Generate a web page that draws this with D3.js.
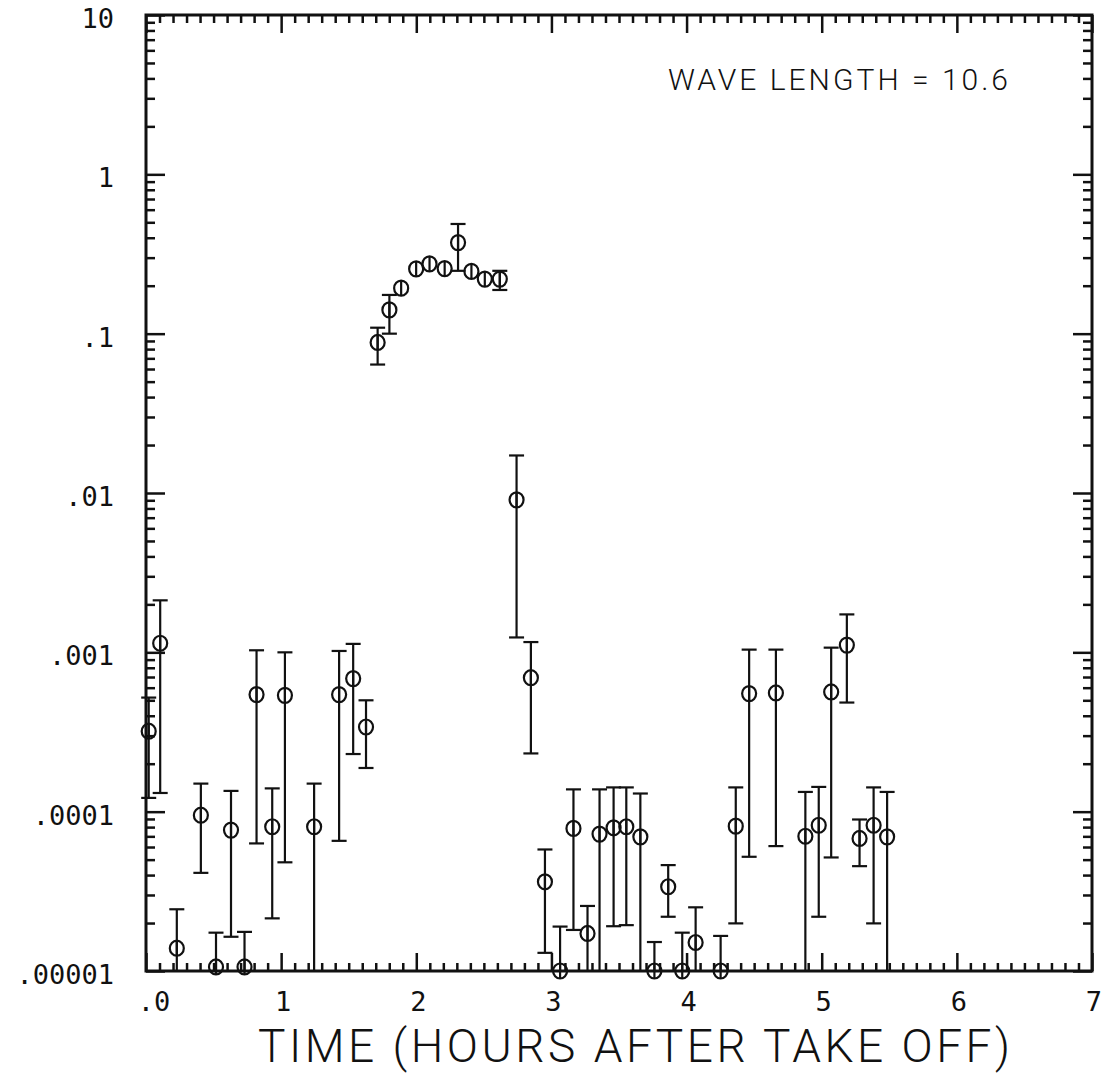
<!DOCTYPE html>
<html><head><meta charset="utf-8">
<script src="https://cdn.jsdelivr.net/npm/d3@7/dist/d3.min.js"></script>
<style>body{margin:0;background:#fff}svg{display:block}text{font-family:"DejaVu Sans Mono",monospace;fill:#111}
text.thin{font-family:Roboto,"DejaVu Sans",sans-serif;font-weight:300}</style>
</head><body>
<svg id="c" width="1106" height="1088"></svg>
<script>
// Time (hours after take off)
const times = [0.02,0.105,0.228,0.406,0.518,0.629,0.729,0.818,0.934,1.028,1.244,1.429,1.533,1.628,
  1.714,1.801,1.888,1.999,2.098,2.210,2.309,2.408,2.507,2.618,2.742,2.848,2.952,3.064,3.163,3.267,
  3.356,3.460,3.554,3.658,3.762,3.864,3.968,4.067,4.252,4.364,4.463,4.661,4.879,4.978,5.070,5.186,
  5.280,5.384,5.484];
const values = [3.2e-4,1.14e-3,1.39e-5,9.5e-5,1.06e-5,7.66e-5,1.06e-5,5.43e-4,8.04e-5,5.37e-4,8.04e-5,5.43e-4,6.84e-4,3.40e-4,
  0.0881,0.141,0.193,0.255,0.274,0.256,0.373,0.246,0.220,0.220,9.06e-3,6.93e-4,3.63e-5,1.0e-5,7.85e-5,1.72e-5,
  7.23e-5,7.92e-5,8.04e-5,6.95e-5,1.0e-5,3.38e-5,1.0e-5,1.51e-5,1.0e-5,8.11e-5,5.51e-4,5.56e-4,7.01e-5,8.22e-5,5.64e-4,1.11e-3,
  6.79e-5,8.22e-5,6.95e-5];
// upper end of error bar (null = no bar drawn)
const uppers = [5.2e-4,2.12e-3,2.44e-5,1.50e-4,1.74e-5,1.35e-4,1.76e-5,1.03e-3,1.40e-4,1.0e-3,1.50e-4,1.02e-3,1.13e-3,5.0e-4,
  0.109,0.175,null,null,null,null,0.488,null,null,0.248,0.0172,1.16e-3,5.79e-5,1.90e-5,1.38e-4,2.56e-5,
  1.38e-4,1.42e-4,1.42e-4,1.30e-4,1.52e-5,4.62e-5,1.74e-5,2.51e-5,1.66e-5,1.42e-4,1.04e-3,1.04e-3,1.33e-4,1.43e-4,1.07e-3,1.73e-3,
  8.93e-5,1.42e-4,1.33e-4];
// lower end of error bar (0 = extends below the plotted range, null = no bar)
const lowers = [1.22e-4,1.31e-4,0,4.13e-5,0,1.64e-5,0,6.32e-5,2.14e-5,4.81e-5,0,6.56e-5,2.30e-4,1.88e-4,
  0.064,0.100,null,null,null,null,0.248,null,null,0.188,1.24e-3,2.32e-4,1.30e-5,0,1.81e-5,0,
  0,1.91e-5,1.94e-5,0,0,2.19e-5,0,0,0,1.99e-5,5.21e-5,6.08e-5,0,2.19e-5,5.16e-5,4.84e-4,
  4.55e-5,1.99e-5,0];
const xTickValues = [0,1,2,3,4,5,6,7];
const xTickLabels = [".0","1","2","3","4","5","6","7"];
const yTickValues = [10,1,0.1,0.01,0.001,0.0001,0.00001];
const yTickLabels = ["10","1",".1",".01",".001",".0001",".00001"];
const xTitle = "TIME (HOURS AFTER TAKE OFF)";
const annotation = "WAVE LENGTH = 10.6";

const L=146,R=1092,T=15,B=971;
const svg = d3.select("#c");
const x = d3.scaleLinear().domain([0,7]).range([L,R]);
const y = d3.scaleLog().domain([1e-5,10]).range([B,T]);

// minor tick positions
const xMinor = d3.range(0,70).map(i=>i/10).filter(v=>Math.abs(v-Math.round(v))>1e-6);
const yMinor = [];
for (let e=-5;e<1;e++) for (let k=2;k<=9;k++) yMinor.push(k*Math.pow(10,e));

const g = svg.append("g");
function tickAxis(axisFn, scale, vals, size, tr){
  const a = axisFn(scale).tickValues(vals).tickSize(size).tickFormat("");
  const gg = g.append("g").attr("transform",tr).call(a);
  gg.select(".domain").remove();
  gg.selectAll("line").attr("stroke","#111").attr("stroke-width",2.5);
  return gg;
}
// bottom
tickAxis(d3.axisBottom, x, xMinor, -8, `translate(0,${B})`);
tickAxis(d3.axisBottom, x, xTickValues, -18, `translate(0,${B})`);
// top
tickAxis(d3.axisTop, x, xMinor, -8, `translate(0,${T})`);
tickAxis(d3.axisTop, x, xTickValues, -18, `translate(0,${T})`);
// left
tickAxis(d3.axisLeft, y, yMinor, -9, `translate(${L},0)`);
tickAxis(d3.axisLeft, y, yTickValues, -19, `translate(${L},0)`);
// right
tickAxis(d3.axisRight, y, yMinor, -9, `translate(${R},0)`);
tickAxis(d3.axisRight, y, yTickValues, -19, `translate(${R},0)`);

// frame
g.append("rect").attr("x",L).attr("y",T).attr("width",R-L).attr("height",B-T)
  .attr("fill","none").attr("stroke","#111").attr("stroke-width",3);

// y labels
g.selectAll("text.yl").data(yTickValues).join("text").attr("class","yl")
  .attr("x",114).attr("y",d=>y(d)+13).attr("text-anchor","end")
  .attr("font-size",27).text((d,i)=>yTickLabels[i]);
// x labels
g.selectAll("text.xl").data(xTickValues).join("text").attr("class","xl")
  .attr("x",(d,i)=>x(d)+(i===0?8:2)).attr("y",1011).attr("text-anchor","middle")
  .attr("font-size",27).text((d,i)=>xTickLabels[i]);

// title
g.append("text").attr("class","thin").attr("x",258).attr("y",1062).attr("font-size",46)
  .attr("textLength",752).attr("lengthAdjust","spacing").text(xTitle);
g.append("text").attr("class","thin").attr("x",668).attr("y",90).attr("font-size",30)
  .attr("textLength",340).attr("lengthAdjust","spacing").text(annotation);

// data
const data = times.map((t,i)=>({t,v:values[i],u:uppers[i],l:lowers[i]}));
const cap = 7.5;
const eb = g.append("g").attr("stroke","#111").attr("stroke-width",2.2).attr("fill","none");
data.forEach(d=>{
  if (d.u===null && d.l===null) return;
  const cx = x(d.t);
  const yu = y(d.u);
  const yl = d.l===0 ? B : y(d.l);
  eb.append("line").attr("x1",cx).attr("x2",cx).attr("y1",yu).attr("y2",yl);
  eb.append("line").attr("x1",cx-cap).attr("x2",cx+cap).attr("y1",yu).attr("y2",yu);
  if (d.l!==0) eb.append("line").attr("x1",cx-cap).attr("x2",cx+cap).attr("y1",yl).attr("y2",yl);
});
g.append("g").selectAll("ellipse").data(data).join("ellipse")
  .attr("cx",d=>x(d.t)).attr("cy",d=>y(d.v)).attr("rx",7).attr("ry",7.5)
  .attr("fill","none").attr("stroke","#111").attr("stroke-width",2.2);
// vertical stroke through each marker
g.append("g").selectAll("line").data(data).join("line")
  .attr("x1",d=>x(d.t)).attr("x2",d=>x(d.t))
  .attr("y1",d=>y(d.v)-7).attr("y2",d=>y(d.v)+7)
  .attr("stroke","#111").attr("stroke-width",2.2);
</script>
</body></html>
